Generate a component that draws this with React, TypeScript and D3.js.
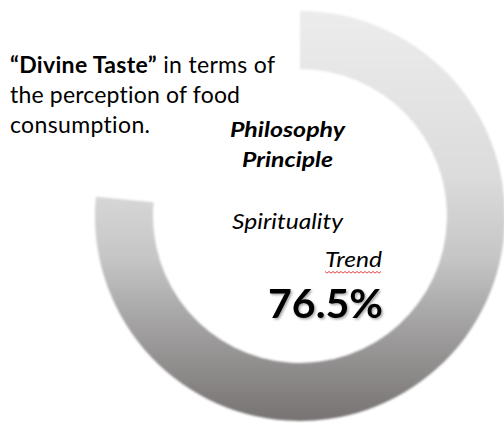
import React from "react";
import * as d3 from "d3";

const VALUE: number[] = [76.5];
const TITLE_BOLD = "“Divine Taste”";
const TITLE_LINES: string[] = [" in terms of", "the perception of food", "consumption."];
const LABELS: string[] = ["Philosophy", "Principle", "Spirituality", "Trend"];

const W = 504;
const H = 425;

export default function App() {
  const cx = 300;
  const cy = 216;
  const outerR = 205;
  const innerR = 147;
  const angle = d3.scaleLinear().domain([0, 100]).range([0, 2 * Math.PI]);
  const arcGen = d3
    .arc<any>()
    .innerRadius(innerR)
    .outerRadius(outerR)
    .startAngle(0)
    .endAngle(angle(VALUE[0]));
  const d = arcGen({}) as string;

  const font = "Lato, 'Open Sans', sans-serif";

  // spell-check squiggle under "Trend"
  const sqX0 = 325;
  const sqX1 = 382;
  const sqY = 272;
  const pts: [number, number][] = [];
  for (let x = sqX0, i = 0; x <= sqX1; x += 2, i++) pts.push([x, sqY + (i % 2 ? 1.1 : -0.5)]);
  const squig = d3.line()(pts) as string;

  return (
    <svg
      width={W}
      height={H}
      style={{ position: "absolute", left: 0, top: 0, background: "#fff", fontVariantLigatures: "none" }}
      fontFamily={font}
    >
      <defs>
        <linearGradient id="ringGrad" x1="0" y1={-outerR} x2="0" y2={outerR} gradientUnits="userSpaceOnUse">
          <stop offset="0" stopColor="#ececec" />
          <stop offset="0.4" stopColor="#dcdcdc" />
          <stop offset="0.6" stopColor="#c6c6c6" />
          <stop offset="0.8" stopColor="#9c9a9a" />
          <stop offset="1" stopColor="#787373" />
        </linearGradient>
        <filter id="soft" x="-10%" y="-10%" width="120%" height="120%">
          <feGaussianBlur stdDeviation="1.1" />
        </filter>
        <filter id="shadow" x="-10%" y="-10%" width="130%" height="130%">
          <feDropShadow dx="1.5" dy="1.5" stdDeviation="1" floodColor="#000" floodOpacity="0.35" />
        </filter>
      </defs>

      <path d={d} transform={`translate(${cx},${cy})`} fill="url(#ringGrad)" filter="url(#soft)" />

      <text x={10} y={73} fontSize={23} fill="#000" textLength={265} lengthAdjust="spacing">
        <tspan fontWeight="bold">{TITLE_BOLD}</tspan>
        <tspan>{TITLE_LINES[0]}</tspan>
      </text>
      <text x={10} y={103} fontSize={23} fill="#000" textLength={230} lengthAdjust="spacing">{TITLE_LINES[1]}</text>
      <text x={10} y={133} fontSize={23} fill="#000" textLength={140} lengthAdjust="spacing">{TITLE_LINES[2]}</text>

      <text x={230} y={137} fontSize={21} fontWeight="bold" fontStyle="italic" textLength={115} lengthAdjust="spacingAndGlyphs">{LABELS[0]}</text>
      <text x={242} y={167} fontSize={21} fontWeight="bold" fontStyle="italic" textLength={91} lengthAdjust="spacingAndGlyphs">{LABELS[1]}</text>
      <text x={232} y={229} fontSize={21} fontStyle="italic" textLength={111} lengthAdjust="spacingAndGlyphs">{LABELS[2]}</text>
      <text x={325} y={267} fontSize={21} fontStyle="italic" textLength={57} lengthAdjust="spacingAndGlyphs">{LABELS[3]}</text>
      <path d={squig} fill="none" stroke="#e03030" strokeWidth={0.9} />
      <text x={268} y={318} fontSize={40} fontWeight="bold" textLength={115} lengthAdjust="spacingAndGlyphs" filter="url(#shadow)">
        {VALUE[0].toFixed(1)}%
      </text>
    </svg>
  );
}
